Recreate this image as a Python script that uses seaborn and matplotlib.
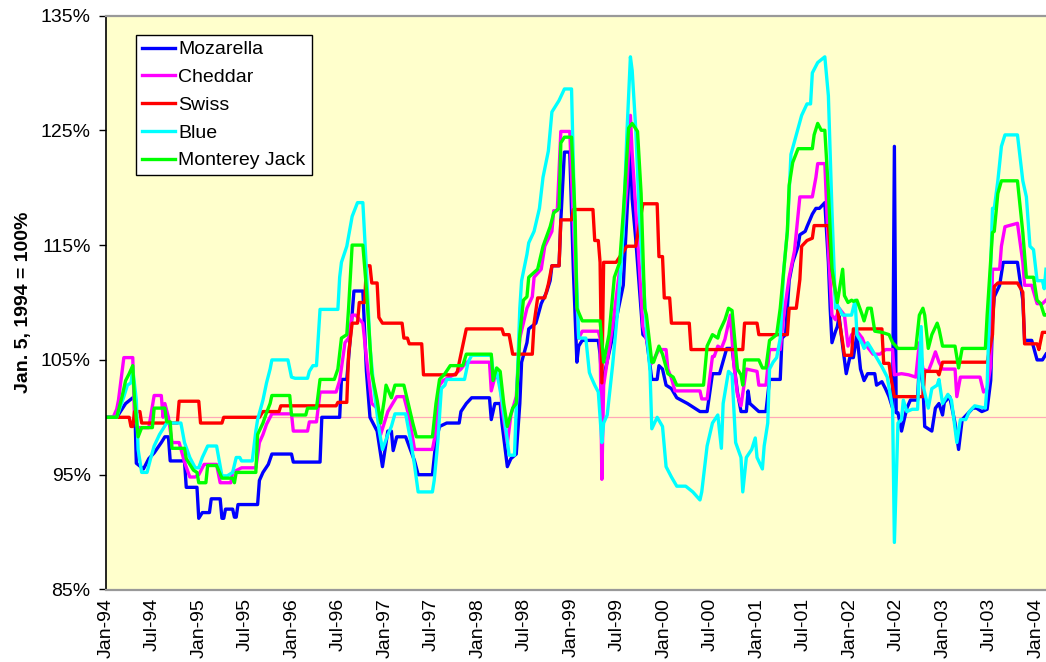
import numpy as np
import pandas as pd
import matplotlib
matplotlib.use("Agg")
import matplotlib.pyplot as plt
from matplotlib.lines import Line2D
import seaborn as sns

# Weekly cheese price indices (week number counted from Jan. 5, 1994; value in % of that date)
mozzarella_wk = [0, 6, 11, 15, 16, 17, 21, 24, 27, 31, 33, 35, 36, 44, 45, 51, 52, 54, 58, 59, 64, 65, 66, 67, 71, 72,
                 73, 74, 85, 86, 88, 91, 93, 104, 105, 120, 121, 131, 132, 135, 137, 139, 144, 146, 148, 152, 155, 158,
                 160, 161, 163, 168, 173, 175, 183, 185, 187, 191, 198, 199, 202, 205, 215, 216, 218, 221, 222, 225, 227,
                 230, 232, 233, 236, 237, 241, 244, 247, 249, 250, 254, 255, 257, 260, 262, 264, 265, 267, 276, 277, 278,
                 284, 290, 294, 295, 297, 301, 303, 306, 309, 310, 312, 314, 317, 320, 326, 333, 337, 340, 344, 348, 351,
                 354, 356, 359, 360, 361, 366, 370, 372, 378, 379, 381, 383, 385, 388, 389, 392, 393, 396, 398, 400, 403,
                 405, 406, 407, 409, 410, 411, 413, 415, 417, 419, 421, 423, 425, 427, 431, 432, 435, 437, 439, 441, 442,
                 443, 444, 446, 449, 451, 455, 456, 458, 459, 463, 465, 467, 469, 470, 473, 476, 478, 480, 483, 486, 488,
                 491, 494, 496, 497, 498, 501, 503, 511, 514, 515, 519, 522, 525, 527]
mozzarella_pct = [100, 100, 101.2, 101.7, 101.7, 96, 95.5, 96.4, 96.9, 97.8, 98.3, 98.3, 96.2, 96.2, 93.9, 93.9, 91.2,
                  91.7, 91.7, 92.9, 92.9, 91.2, 91.2, 92, 92, 91.3, 91.3, 92.4, 92.4, 94.5, 95.2, 95.9, 96.8, 96.8, 96.1,
                  96.1, 100, 100, 103.3, 103.3, 107, 111, 111, 104, 100, 98.8, 95.7, 98.8, 98.8, 97.1, 98.3, 98.3, 96.2,
                  95, 95, 98, 99.2, 99.5, 99.5, 100.5, 101.2, 101.7, 101.7, 99.8, 101.2, 101.2, 99.5, 95.7, 96.4, 96.8,
                  101.2, 104.8, 106.5, 107.7, 108.2, 109.9, 110.9, 111.9, 113.2, 113.2, 117.2, 123.1, 123.1, 112.9, 104.8,
                  106.2, 106.7, 106.7, 105.5, 102.8, 107, 111.5, 123.6, 119, 115.5, 107.2, 106.9, 103.3, 103.3, 104.5,
                  104.2, 102.8, 102.5, 101.7, 101.2, 100.5, 100.5, 103.8, 103.8, 106, 106, 102.2, 100.5, 100.5, 102.3,
                  101.2, 100.5, 100.5, 103.3, 103.3, 106.9, 107.2, 111.9, 113.5, 114.9, 115.9, 116.2, 116.6, 117.7, 118.2,
                  118.2, 118.7, 113.5, 109.5, 106.5, 107.5, 107.9, 108.8, 106.2, 103.8, 105.2, 105.2, 107.2, 104.2, 103.2,
                  103.8, 103.8, 102.8, 103.1, 102.5, 101.8, 100.8, 123.6, 100.4, 100.4, 98.8, 100.8, 101.5, 101.5, 104.8,
                  102.8, 99.2, 98.8, 100.8, 101.2, 100.2, 101.3, 101.8, 99.5, 97.2, 99.8, 100.3, 100.8, 100.8, 100.5,
                  100.7, 103.2, 108.5, 110.5, 111.5, 113.5, 113.5, 110.2, 106.7, 106.7, 105, 105, 105.5]

cheddar_wk = [0, 4, 6, 7, 10, 15, 16, 18, 24, 27, 31, 32, 33, 35, 37, 41, 44, 47, 50, 52, 55, 62, 64, 70, 71, 76, 84,
              86, 88, 90, 93, 104, 105, 113, 114, 118, 120, 129, 131, 134, 136, 138, 140, 144, 146, 149, 152, 154, 158,
              163, 167, 170, 173, 183, 185, 187, 189, 196, 199, 202, 215, 216, 218, 221, 222, 225, 227, 230, 232, 236,
              239, 240, 244, 246, 250, 251, 253, 255, 260, 263, 265, 267, 276, 277, 278, 279, 282, 284, 288, 292, 294,
              295, 298, 301, 304, 306, 310, 314, 315, 317, 319, 333, 334, 337, 340, 341, 343, 345, 347, 350, 352, 354,
              356, 359, 365, 366, 370, 372, 378, 380, 383, 386, 389, 396, 398, 399, 403, 405, 407, 409, 411, 414, 416,
              418, 421, 424, 425, 430, 434, 437, 441, 442, 446, 450, 454, 456, 458, 461, 463, 465, 467, 469, 476, 477,
              479, 490, 492, 494, 496, 497, 501, 502, 504, 511, 514, 515, 519, 522, 525, 527]
cheddar_pct = [100, 100, 100.7, 101.5, 105.2, 105.2, 99.8, 99.1, 99.1, 101.9, 101.9, 100, 101.2, 100, 97.8, 97.8, 96.1,
               94.8, 94.8, 95, 95.9, 95.9, 94.3, 94.3, 95.2, 95.6, 95.6, 97.8, 98.5, 99.4, 100.3, 100.3, 98.8, 98.8, 99.6,
               99.6, 102.2, 102.2, 103.2, 106.5, 106.9, 108.9, 108.9, 108.2, 105.2, 101.2, 100.8, 98.5, 100.5, 101.8,
               101.8, 100, 97.2, 97.2, 98.8, 102.8, 103.2, 103.8, 104.2, 104.8, 104.8, 102.3, 103.5, 103.4, 100.8, 97.7,
               100.2, 101.8, 106.9, 109.5, 110.5, 112.2, 112.9, 114.9, 116.2, 118, 118, 124.9, 124.9, 113, 106.9, 107.5,
               107.5, 106.9, 94.6, 102.8, 105.9, 107.9, 112.9, 120, 126.3, 123, 115.7, 107.9, 106.2, 104.7, 105.9, 105.9,
               104.2, 103.4, 102.3, 102.3, 101.6, 101.6, 105.3, 105.3, 106.2, 106, 106.8, 108.9, 104.6, 102, 101, 104.2,
               104, 102.8, 102.8, 105.9, 105.9, 108.9, 112.2, 114.5, 119.2, 119.2, 120.9, 122.1, 122.1, 114.6, 108.9,
               108.5, 109.5, 108.9, 106.2, 107.2, 107.5, 106.9, 106.5, 105.5, 105.5, 105.9, 105.9, 103.7, 103.8, 103.7,
               103.5, 106.5, 104.2, 104, 104.8, 105.7, 104.8, 104.2, 104.2, 101.8, 103.5, 103.5, 102.2, 102.5, 104.5,
               112.9, 112.9, 114.9, 116.6, 116.9, 113.5, 111.5, 111.5, 109.9, 109.9, 110.2]

swiss_wk = [0, 13, 14, 15, 16, 19, 20, 40, 41, 52, 53, 65, 66, 86, 88, 97, 98, 129, 130, 135, 136, 138, 141, 142, 145,
            146, 148, 149, 152, 153, 155, 166, 167, 169, 170, 177, 178, 196, 197, 199, 202, 222, 223, 226, 228, 239, 240,
            242, 246, 248, 250, 254, 255, 261, 262, 273, 274, 276, 277, 278, 279, 286, 289, 292, 297, 301, 309, 310,
            312, 313, 316, 317, 327, 328, 357, 358, 365, 366, 382, 383, 387, 389, 390, 393, 396, 397, 405, 407, 410,
            413, 414, 418, 419, 435, 436, 439, 440, 442, 458, 459, 466, 467, 469, 494, 497, 498, 500, 511, 514, 515, 522,
            523, 525, 527]
swiss_pct = [100, 100, 99.2, 99.2, 100.5, 100.5, 99.5, 99.5, 101.4, 101.4, 99.5, 99.5, 100, 100, 100.5, 100.5, 101, 101,
             101.3, 101.3, 105.5, 108.2, 108.2, 110, 110, 113.2, 113.2, 111.7, 111.7, 108.7, 108.2, 108.2, 106.9, 106.9,
             106.4, 106.4, 103.7, 103.7, 104, 105.5, 107.7, 107.7, 107.2, 107.2, 105.5, 105.5, 108.2, 110.4, 110.4, 111.6,
             113.2, 113.2, 117.2, 117.2, 118.1, 118.1, 115.4, 115.4, 113.5, 103, 113.5, 113.5, 114.2, 114.9, 114.9, 118.6,
             118.6, 114, 114, 110.4, 110.4, 108.2, 108.2, 105.9, 105.9, 108.2, 108.2, 107.2, 107.2, 109.5, 109.5, 112,
             114.9, 115.4, 115.6, 116.7, 116.7, 112.9, 109.5, 106.5, 105.4, 105.4, 107.7, 107.7, 104.7, 104.7, 103.5,
             101.8, 101.8, 104, 104, 103.7, 104.8, 104.8, 107.2, 111.4, 111.7, 111.7, 110.9, 106.4, 106.4, 105.9, 107.4,
             107.4]

blue_wk = [0, 6, 10, 12, 14, 15, 17, 18, 20, 23, 25, 27, 30, 34, 42, 44, 47, 50, 52, 54, 57, 61, 62, 65, 68, 71, 73,
           75, 76, 79, 82, 84, 85, 88, 90, 92, 93, 102, 104, 106, 113, 114, 116, 118, 120, 130, 131, 132, 135, 138, 141,
           144, 146, 148, 150, 153, 155, 158, 160, 162, 168, 171, 173, 175, 183, 184, 186, 188, 190, 191, 201, 203, 205,
           216, 217, 219, 222, 225, 226, 229, 230, 232, 233, 236, 237, 240, 243, 245, 248, 250, 254, 257, 261, 263, 265,
           269, 271, 272, 274, 276, 278, 279, 281, 284, 287, 290, 292, 294, 295, 297, 299, 303, 305, 306, 309, 312, 314,
           317, 320, 325, 329, 333, 334, 337, 340, 343, 345, 346, 349, 351, 353, 356, 357, 359, 362, 364, 365, 368, 369,
           371, 372, 374, 376, 378, 380, 382, 384, 387, 390, 393, 395, 396, 399, 403, 405, 407, 409, 410, 413, 416, 418,
           420, 421, 424, 425, 427, 429, 432, 435, 438, 441, 442, 444, 446, 447, 449, 452, 455, 457, 458, 461, 463, 466,
           467, 469, 472, 474, 477, 479, 482, 484, 487, 493, 494, 497, 498, 500, 502, 504, 511, 514, 516, 518, 520, 522,
           525, 526, 527]
blue_pct = [100, 100, 101.8, 102.8, 103, 104.2, 101.5, 97.2, 95.2, 95.2, 96.4, 97.5, 98.5, 99.5, 99.5, 97.8, 96.5, 95.6,
            95.6, 96.5, 97.5, 97.5, 97.5, 94.9, 94.9, 95.2, 96.5, 96.5, 96.2, 96.2, 96.2, 98.8, 99.8, 101.5, 103, 104.2,
            105, 105, 103.5, 103.4, 103.4, 104, 104.5, 104.5, 109.4, 109.4, 112.2, 113.5, 114.9, 117.5, 118.7, 118.7,
            112.9, 106.2, 102.8, 99, 97.2, 98.5, 99.2, 100.3, 100.3, 97.8, 95.8, 93.5, 93.5, 94.5, 97.8, 102.5, 102.8,
            103.3, 103.3, 104.8, 105.4, 105.4, 104, 104, 101.5, 98, 96.7, 96.7, 100.8, 109.5, 111.9, 114.2, 115.2, 116.2,
            118.2, 120.9, 123.2, 126.6, 127.6, 128.6, 128.6, 115.6, 106.9, 106.9, 103.9, 103.5, 102.8, 102.2, 97.8, 99.5,
            100.2, 104.5, 109.5, 116.2, 124.6, 131.4, 130.2, 125.1, 117.7, 107.7, 104, 99, 100, 99.2, 95.7, 94.8, 94, 94,
            93.5, 92.8, 93.5, 97.5, 99.5, 100.2, 97.3, 101.2, 104, 103.7, 97.8, 96.5, 93.5, 96.5, 97.2, 98.2, 96.5, 95.5,
            97.5, 99.5, 104.2, 104.8, 105.2, 106.9, 112.9, 116.2, 122.9, 124.6, 126.3, 127.3, 127.3, 130, 130.9, 131.4,
            128, 118, 109.5, 109.8, 108.9, 108.9, 108.9, 110.2, 107.2, 106.4, 106, 106.5, 106, 105.2, 104.4, 103.5,
            100.8, 89.1, 99.5, 99.8, 101.5, 100.5, 100.7, 100.7, 107.9, 102.8, 100.8, 102.5, 102.8, 103.3, 101.2, 102,
            101.5, 97.8, 99.8, 99.8, 100.5, 101, 100.8, 102.8, 118.2, 118.2, 120.6, 123.6, 124.6, 124.6, 120.6, 119.2,
            114.9, 114.6, 111.9, 111.9, 111.2, 112.9]

jack_wk = [0, 6, 9, 11, 13, 15, 16, 18, 20, 26, 27, 33, 34, 36, 37, 44, 45, 49, 51, 52, 56, 57, 62, 65, 71, 72, 73, 75,
           84, 85, 88, 90, 92, 93, 103, 104, 112, 113, 118, 120, 128, 130, 132, 135, 136, 138, 144, 146, 148, 149, 152,
           154, 156, 157, 160, 162, 167, 169, 172, 174, 183, 185, 187, 190, 193, 200, 202, 216, 217, 219, 221, 223, 225,
           228, 230, 232, 234, 236, 237, 242, 245, 249, 251, 254, 255, 257, 261, 263, 264, 267, 277, 279, 282, 285, 288,
           290, 293, 295, 298, 300, 302, 303, 306, 307, 310, 312, 315, 318, 320, 335, 337, 340, 343, 344, 347, 349, 351,
           354, 356, 357, 358, 366, 368, 370, 372, 376, 378, 380, 382, 383, 385, 388, 396, 397, 399, 401, 403, 405, 407,
           409, 410, 413, 414, 416, 418, 419, 421, 424, 425, 427, 429, 431, 435, 439, 441, 444, 454, 456, 458, 459, 461,
           463, 466, 467, 469, 476, 478, 480, 493, 494, 497, 498, 500, 502, 511, 514, 516, 520, 522, 524, 526, 527]
jack_pct = [100, 100, 101.8, 103.2, 103.8, 104.5, 101.5, 98.3, 99.1, 99.1, 100.8, 100.8, 99.6, 99.6, 97.3, 97.3, 96.4,
            95.4, 95.2, 94.3, 94.3, 95.8, 95.8, 94.7, 94.7, 94.3, 95.2, 95.2, 95.2, 98.5, 99.5, 100.4, 101.2, 101.9,
            101.9, 100.2, 100.2, 100.8, 100.8, 103.3, 103.3, 104.2, 106.9, 107.2, 109.5, 115, 115, 111.2, 106.2, 103.8,
            101.5, 99.5, 101.5, 102.8, 101.7, 102.8, 102.8, 101.5, 99.5, 98.3, 98.3, 101.2, 103.3, 103.8, 104.5, 104.5,
            105.5, 105.5, 103.2, 104.3, 104, 101.2, 99.2, 100.8, 101.2, 107.2, 110.2, 110.5, 112.2, 112.9, 114.9, 116.6,
            117.8, 118.2, 123.9, 124.4, 124.4, 117.5, 109.5, 108.4, 108.4, 104.8, 107.2, 112.2, 113.5, 117.8, 125.2,
            125.6, 124.9, 119.5, 109.5, 108.9, 104.8, 104.8, 106.2, 105.5, 103.8, 103.5, 102.8, 102.8, 106.2, 107.2,
            106.9, 107.5, 108.5, 109.5, 109.3, 104.2, 103.7, 102.8, 105, 105, 104.3, 104.3, 106.7, 107.2, 109.5, 112.9,
            116.2, 120.2, 122.2, 123.4, 123.4, 124.6, 125.6, 125, 125, 119.7, 113, 110.9, 110, 112.9, 110.6, 110, 110.2,
            110.1, 110.2, 108.9, 108.4, 109.5, 109.5, 107.5, 107.4, 107.2, 106.5, 106, 106, 108.9, 109.5, 108.9, 106,
            107.2, 108.2, 107.7, 106.2, 106.2, 104.3, 106, 106, 108.9, 116.1, 116.2, 119.5, 120.6, 120.6, 116.1, 112.2,
            112.2, 110.2, 109.9, 108.9, 108.9]

cheeses = ["Mozarella", "Cheddar", "Swiss", "Blue", "Monterey Jack"]
line_colors = ["#0000FF", "#FF00FF", "#FF0000", "#00FFFF", "#00FF00"]
y_ticks = [85, 95, 105, 115, 125, 135]

base_date = pd.Timestamp("1994-01-05")
series = [(mozzarella_wk, mozzarella_pct), (cheddar_wk, cheddar_pct), (swiss_wk, swiss_pct),
          (blue_wk, blue_pct), (jack_wk, jack_pct)]

frames = []
for name, (wk, pct) in zip(cheeses, series):
    frames.append(pd.DataFrame({
        "date": base_date + pd.to_timedelta(np.asarray(wk) * 7, unit="D"),
        "pct": pct,
        "cheese": name,
    }))
df = pd.concat(frames, ignore_index=True)

plt.rcParams["font.family"] = ["Liberation Sans", "DejaVu Sans"]

W, H = 1046, 662
left_px, right_px, top_px, bottom_px = 106, 1046, 15.5, 589.5
fig = plt.figure(figsize=(W / 100, H / 100), dpi=100)
ax = fig.add_axes([left_px / W, 1 - bottom_px / H, (right_px - left_px) / W, (bottom_px - top_px) / H])
ax.set_facecolor("#FFFFCC")

# reference level of 100 %
ax.axhline(100, color="#FFA8B8", lw=0.9, zorder=1)

sns.lineplot(data=df, x="date", y="pct", hue="cheese", hue_order=cheeses, palette=line_colors,
             linewidth=2.4, estimator=None, sort=False, legend=False, ax=ax, zorder=2)

ax.set_ylim(85, 135)
ax.set_yticks(y_ticks)
ax.set_yticklabels([f"{t}%" for t in y_ticks], fontsize=14)
ax.set_xlim(base_date, base_date + pd.Timedelta(days=3689))

tick_dates = [pd.Timestamp(f"{y}-{m:02d}-05") for y in range(1994, 2005) for m in (1, 7)]
tick_dates = [d for d in tick_dates if d <= pd.Timestamp("2004-01-05")]
ax.set_xticks(tick_dates)
ax.set_xticklabels([d.strftime("%b-%y") for d in tick_dates], rotation=90, fontsize=14)
ax.tick_params(axis="y", direction="out", length=5, width=1, color="#000000", pad=6)
ax.tick_params(axis="x", length=0, pad=6)

ax.set_xlabel("")
ax.set_ylabel("Jan. 5, 1994 = 100%", fontsize=14, fontweight="bold", labelpad=6)

for side in ("top", "bottom"):
    ax.spines[side].set_color("#999999")
    ax.spines[side].set_linewidth(1.6)
ax.spines["left"].set_color("#000000")
ax.spines["left"].set_linewidth(1.2)
ax.spines["right"].set_visible(False)

handles = [Line2D([0], [0], color=c, lw=2.4) for c in line_colors]
leg = ax.legend(handles, cheeses, loc="upper left", bbox_to_anchor=(0.0316, 0.966), fontsize=14,
                frameon=True, fancybox=False, shadow=False, handlelength=1.7, handletextpad=0.2,
                labelspacing=0.52, borderpad=0.3, borderaxespad=0)
leg.get_frame().set_edgecolor("#000000")
leg.get_frame().set_linewidth(1.0)
leg.get_frame().set_facecolor("#FFFFFF")
leg.get_frame().set_alpha(1)

fig.savefig("out.png", dpi=100, facecolor="white")
